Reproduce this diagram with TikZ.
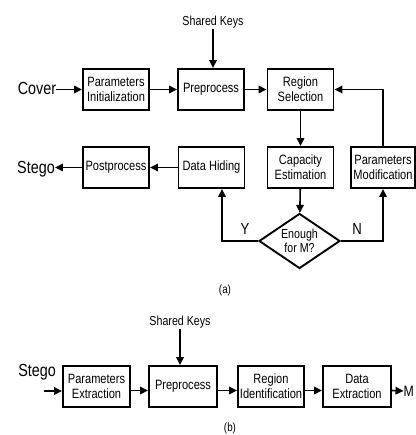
\documentclass[tikz,border=0pt]{standalone}
\usepackage{fontspec}
\setmainfont{Liberation Sans}[FakeStretch=0.82]
\usetikzlibrary{shapes.geometric,arrows.meta}
\begin{document}
\begin{tikzpicture}[x=1pt,y=-1pt,
  box/.style={draw,line width=1.9pt,minimum width=66pt,minimum height=41pt,inner sep=1pt,align=center,font=\fontsize{13.5}{15}\selectfont},
  dia/.style={draw,diamond,line width=1.9pt,aspect=1.47,minimum width=81pt,minimum height=55pt,inner sep=0pt,align=center,font=\fontsize{13}{14}\selectfont},
  arr/.style={line width=1.6pt,-{Triangle[length=8pt,width=7.5pt]}},
  big/.style={font=\fontsize{17.5}{19}\selectfont,inner sep=0pt},
  small/.style={font=\fontsize{13}{14}\selectfont,inner sep=1pt},
  captxt/.style={font=\fontsize{12}{13}\selectfont,inner sep=1pt}]
\useasboundingbox (0,0) rectangle (415,435);
% ---------- (a) ----------
\node[big] (cover) at (37,88.5) {Cover};
\node[box] (pi) at (116,89.5) {Parameters\\Initialization};
\node[box] (pp) at (211,89.5) {Preprocess};
\node[box] (rs) at (300.5,89.5) {Region\\Selection};
\node[small] (sk) at (213,22) {Shared Keys};
\node[box] (post) at (116,167.5) {Postprocess};
\node[box] (dh) at (211.5,167.5) {Data Hiding};
\node[box] (ce) at (300.5,167.5) {Capacity\\Estimation};
\node[box,minimum width=64pt] (pm) at (383,167.5) {Parameters\\Modification};
\node[big] (stego) at (36,169) {Stego};
\node[dia] (d) at (299.5,241) {Enough\\for M?};
\node[big,font=\fontsize{16}{17}\selectfont] (ylab) at (245,229) {Y};
\node[big,font=\fontsize{16}{17}\selectfont] (nlab) at (357,229) {N};
\node[captxt] (capa) at (225,290) {(a)};
\draw[arr] (cover.east |- pi.west) -- (pi.west);
\draw[arr] (pi) -- (pp);
\draw[arr] (pp) -- (rs);
\draw[arr] (sk.south) -- (sk.south |- pp.north);
\draw[arr] (rs) -- (ce);
\draw[arr] (ce) -- (d);
\draw[arr] (dh) -- (post);
\draw[arr] (post.west) -- (post.west -| stego.east);
\draw[arr] (d.west) -| ([xshift=10.5pt]dh.south);
\draw[arr] (d.east) -| (pm.south);
\draw[arr] (pm.north) |- (rs.east);
% ---------- (b) ----------
\node[big] (stego2) at (37,372) {Stego};
\node[small] (sk2) at (180,322) {Shared Keys};
\node[box,minimum width=67pt] (pe) at (96.5,386.5) {Parameters\\Extraction};
\node[box,minimum width=68pt] (pp2) at (183,386.5) {Preprocess};
\node[box] (ri) at (271,386.5) {Region\\Identification};
\node[box,minimum width=68pt] (de) at (357,386.5) {Data\\Extraction};
\node[big,anchor=west,font=\fontsize{15}{17}\selectfont] (m) at (403.5,391) {M};
\node[captxt] (capb) at (230,428) {(b)};
\coordinate (sin) at (44,391);
\draw[arr] (sin) -- (sin -| pe.west);
\draw[arr] ([yshift=-4pt]pe.east) -- ([yshift=-4pt]pp2.west);
\draw[arr] ([yshift=-4pt]pp2.east) -- ([yshift=-4pt]ri.west);
\draw[arr] ([yshift=-4pt]ri.east) -- ([yshift=-4pt]de.west);
\draw[arr] ([yshift=-4pt]de.east) -- (m.west);
\draw[arr] (sk2.south) -- (sk2.south |- pp2.north);
\end{tikzpicture}
\end{document}
